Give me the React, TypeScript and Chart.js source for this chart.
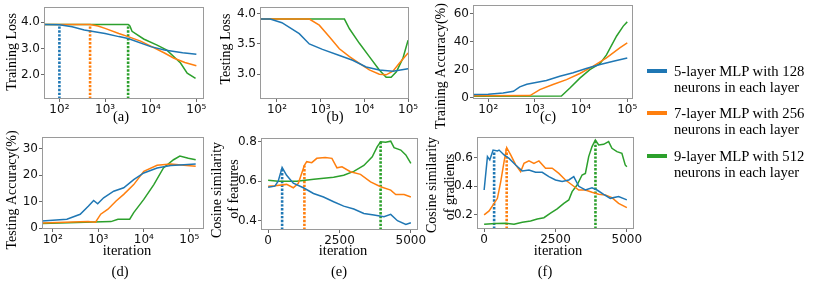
import React, { useEffect, useRef } from "react";
import { Chart, registerables } from "chart.js";
Chart.register(...registerables);

const BLUE = "#1f77b4";
const ORANGE = "#ff7f0e";
const GREEN = "#2ca02c";

// tick labels
const LOG_TICKS = [100, 1000, 10000, 100000];
const LOG_LABELS = ["10²", "10³", "10⁴", "10⁵"];
const LIN_TICKS = [0, 2500, 5000];
const LIN_LABELS = ["0", "2500", "5000"];

const SERIES_NAMES = [
  ["5-layer MLP with 128", "neurons in each layer"],
  ["7-layer MLP with 256", "neurons in each layer"],
  ["9-layer MLP with 512", "neurons in each layer"],
];

// (a) Training loss
const aBlueX = [47, 100, 190, 350, 1000, 2000, 3200, 10000, 20000, 50000, 100000];
const aBlueY = [3.91, 3.9, 3.82, 3.7, 3.57, 3.45, 3.38, 3.07, 2.94, 2.84, 2.78];
const aOrangeX = [47, 470, 700, 1000, 2000, 3200, 6000, 10000, 20000, 31600, 56000, 100000];
const aOrangeY = [3.91, 3.91, 3.85, 3.76, 3.57, 3.45, 3.28, 3.09, 2.83, 2.64, 2.47, 2.35];
const aGreenX = [47, 3200, 3500, 3900, 7000, 13800, 22600, 34500, 45000, 63000, 96000];
const aGreenY = [3.91, 3.91, 3.85, 3.65, 3.36, 3.13, 2.94, 2.64, 2.45, 2.07, 1.87];
const aMarkX = [100, 470, 3200];
const aMarkTop = [3.91, 3.91, 3.91];

// (b) Testing loss
const bBlueX = [41, 70, 130, 324, 550, 1100, 2700, 5400, 11000, 22000, 45000, 100000];
const bBlueY = [3.91, 3.91, 3.85, 3.67, 3.5, 3.41, 3.31, 3.23, 3.12, 3.07, 3.05, 3.09];
const bOrangeX = [41, 550, 930, 1580, 2680, 4560, 7700, 13000, 22000, 31500, 45000, 63000, 100000];
const bOrangeY = [3.91, 3.91, 3.81, 3.62, 3.42, 3.29, 3.18, 3.07, 3.0, 2.99, 3.05, 3.18, 3.35];
const bGreenX = [41, 3500, 4560, 7700, 13000, 22000, 31500, 41000, 54000, 76000, 100000];
const bGreenY = [3.91, 3.91, 3.75, 3.51, 3.29, 3.07, 2.95, 2.95, 3.04, 3.26, 3.56];

// (c) Training accuracy
const cBlueX = [47, 100, 210, 350, 480, 680, 1000, 1800, 3500, 6800, 13000, 26000, 50000, 100000];
const cBlueY = [2.4, 2.6, 3.5, 4.7, 7.8, 9.7, 10.7, 12.3, 15.4, 17.8, 20.9, 23.7, 26, 28.4];
const cOrangeX = [47, 800, 1300, 2500, 4900, 9500, 18500, 35600, 69000, 100000];
const cOrangeY = [1.5, 1.6, 5.9, 9.5, 13, 17.3, 22.5, 28.4, 35.5, 39];
const cGreenX = [47, 3800, 5800, 9500, 15600, 26000, 35600, 59000, 82000, 100000];
const cGreenY = [1.2, 1.3, 7, 14, 20, 24.5, 30.5, 44, 51, 54];

// (d) Testing accuracy
const dBlueX = [57, 204, 400, 610, 790, 970, 1310, 2180, 3620, 6000, 10000, 19600, 39000, 76000, 138000];
const dBlueY = [2.75, 3.4, 5.25, 8.4, 10.5, 9.25, 11.5, 14, 15.3, 18.4, 20.9, 22.8, 23.75, 24, 24.25];
const dOrangeX = [57, 600, 870, 1130, 1630, 2460, 3620, 6000, 10000, 19600, 39000, 76000, 138000];
const dOrangeY = [2.0, 2.5, 2.3, 5.3, 7.2, 10.3, 12.8, 16.5, 21.5, 23.8, 24.3, 23.8, 23.4];
const dGreenX = [57, 1900, 2700, 4900, 6000, 10000, 16600, 27000, 45000, 62000, 95000, 138000];
const dGreenY = [1.8, 2.5, 3.4, 3.4, 5.9, 10.9, 16.5, 22.8, 25.9, 27.3, 26.5, 25.9];

// (e) Cosine similarity of features
const eBlueX = [0, 235, 353, 490, 647, 882, 1235, 1588, 1940, 2294, 2647, 3000, 3353, 3705, 4058, 4294, 4530, 4823, 5000];
const eBlueY = [0.57, 0.575, 0.6, 0.67, 0.63, 0.59, 0.567, 0.538, 0.52, 0.496, 0.474, 0.459, 0.437, 0.429, 0.42, 0.432, 0.4, 0.381, 0.39];
const eOrangeX = [0, 235, 647, 882, 1058, 1270, 1352, 1529, 1705, 2000, 2235, 2411, 2588, 2882, 3235, 3588, 3940, 4294, 4470, 4764, 5000];
const eOrangeY = [0.575, 0.577, 0.584, 0.567, 0.59, 0.68, 0.699, 0.694, 0.716, 0.72, 0.716, 0.668, 0.673, 0.648, 0.635, 0.597, 0.572, 0.555, 0.533, 0.533, 0.52];
const eGreenX = [0, 350, 1000, 1600, 2294, 2647, 3000, 3353, 3647, 3823, 3940, 4117, 4294, 4411, 4647, 4823, 5000];
const eGreenY = [0.605, 0.6, 0.6, 0.61, 0.62, 0.63, 0.65, 0.68, 0.724, 0.775, 0.8, 0.797, 0.803, 0.77, 0.758, 0.733, 0.69];
const eMarkX = [490, 1270, 3940];
const eMarkTop = [0.67, 0.68, 0.8];

// (f) Cosine similarity of gradients
const fBlueX = [0, 116, 198, 314, 465, 523, 698, 872, 1105, 1337, 1570, 1802, 2035, 2268, 2500, 2733, 2966, 3140, 3315, 3547, 3780, 3954, 4187, 4419, 4710, 5000];
const fBlueY = [0.374, 0.607, 0.584, 0.653, 0.647, 0.653, 0.619, 0.595, 0.549, 0.507, 0.514, 0.498, 0.498, 0.467, 0.444, 0.433, 0.444, 0.467, 0.4, 0.374, 0.39, 0.374, 0.344, 0.316, 0.328, 0.305];
const fOrangeX = [0, 174, 349, 465, 582, 698, 791, 930, 1105, 1279, 1396, 1570, 1744, 1919, 2151, 2384, 2617, 2849, 3082, 3315, 3547, 3780, 4012, 4245, 4477, 4710, 5000];
const fOrangeY = [0.2, 0.228, 0.281, 0.316, 0.433, 0.572, 0.67, 0.619, 0.549, 0.502, 0.56, 0.577, 0.56, 0.577, 0.526, 0.526, 0.49, 0.444, 0.409, 0.374, 0.374, 0.358, 0.344, 0.34, 0.321, 0.281, 0.251];
const fGreenX = [0, 407, 756, 1047, 1337, 1628, 1861, 2094, 2326, 2559, 2792, 2966, 3082, 3256, 3431, 3547, 3663, 3780, 3896, 4012, 4187, 4361, 4477, 4652, 4826, 4942, 5000];
const fGreenY = [0.135, 0.14, 0.142, 0.135, 0.149, 0.158, 0.172, 0.181, 0.212, 0.242, 0.281, 0.305, 0.363, 0.409, 0.479, 0.49, 0.607, 0.677, 0.723, 0.688, 0.693, 0.712, 0.665, 0.642, 0.63, 0.549, 0.537];
const fMarkX = [350, 790, 3900];
const fMarkTop = [0.65, 0.67, 0.72];

const COLORS = [BLUE, ORANGE, GREEN];
const W = 814;
const H = 285;
const YW = 40;
const XH = 20;
const SERIF = '"Liberation Serif", "Times New Roman", serif';

type Txt = { t: string; x: number; y: number; r?: boolean };
type PanelDef = {
  box: [number, number, number, number];
  log: boolean;
  xMin: number;
  xMax: number;
  yMin: number;
  yMax: number;
  yTicks: number[];
  yLabels: string[];
  series: [number[], number[]][];
  markX?: number[];
  markTop?: number[];
  texts: Txt[];
};

const PANELS: PanelDef[] = [
  {
    box: [44, 7, 204, 99], log: true, xMin: 46, xMax: 147000, yMin: 1.09, yMax: 4.57,
    yTicks: [2, 3, 4], yLabels: ["2.0", "3.0", "4.0"],
    series: [[aBlueX, aBlueY], [aOrangeX, aOrangeY], [aGreenX, aGreenY]],
    markX: aMarkX, markTop: aMarkTop,
    texts: [{ t: "Training Loss", x: 12, y: 52, r: true }, { t: "(a)", x: 121, y: 117 }],
  },
  {
    box: [260, 7, 409, 99], log: true, xMin: 41, xMax: 105000, yMin: 2.59, yMax: 4.11,
    yTicks: [3, 3.5, 4], yLabels: ["3.0", "3.5", "4.0"],
    series: [[bBlueX, bBlueY], [bOrangeX, bOrangeY], [bGreenX, bGreenY]],
    texts: [{ t: "Testing Loss", x: 226, y: 49, r: true }, { t: "(b)", x: 335, y: 117 }],
  },
  {
    box: [473, 5, 633, 99], log: true, xMin: 47, xMax: 133000, yMin: -0.8, yMax: 66,
    yTicks: [0, 20, 40, 60], yLabels: ["0", "20", "40", "60"],
    series: [[cBlueX, cBlueY], [cOrangeX, cOrangeY], [cGreenX, cGreenY]],
    texts: [{ t: "Training Accuracy(%)", x: 441, y: 66, r: true }, { t: "(c)", x: 548, y: 117 }],
  },
  {
    box: [42, 137, 204, 229], log: true, xMin: 58, xMax: 210000, yMin: -0.3, yMax: 34.5,
    yTicks: [0, 10, 20, 30], yLabels: ["0", "10", "20", "30"],
    series: [[dBlueX, dBlueY], [dOrangeX, dOrangeY], [dGreenX, dGreenY]],
    texts: [
      { t: "Testing Accuracy(%)", x: 12, y: 190, r: true },
      { t: "iteration", x: 127, y: 251 },
      { t: "(d)", x: 120, y: 272 },
    ],
  },
  {
    box: [261, 138, 418, 230], log: false, xMin: -250, xMax: 5250, yMin: 0.353, yMax: 0.819,
    yTicks: [0.4, 0.6, 0.8], yLabels: ["0.4", "0.6", "0.8"],
    series: [[eBlueX, eBlueY], [eOrangeX, eOrangeY], [eGreenX, eGreenY]],
    markX: eMarkX, markTop: eMarkTop,
    texts: [
      { t: "Cosine similarity", x: 217, y: 190, r: true },
      { t: "of features", x: 234, y: 189, r: true },
      { t: "iteration", x: 343, y: 251 },
      { t: "(e)", x: 339, y: 272 },
    ],
  },
  {
    box: [477, 137, 634, 229], log: false, xMin: -250, xMax: 5250, yMin: 0.102, yMax: 0.744,
    yTicks: [0.2, 0.4, 0.6], yLabels: ["0.2", "0.4", "0.6"],
    series: [[fBlueX, fBlueY], [fOrangeX, fOrangeY], [fGreenX, fGreenY]],
    markX: fMarkX, markTop: fMarkTop,
    texts: [
      { t: "Cosine similarity", x: 432, y: 185, r: true },
      { t: "of gradients", x: 450, y: 187, r: true },
      { t: "iteration", x: 558, y: 251 },
      { t: "(f)", x: 545, y: 272 },
    ],
  },
];

function buildConfig(p: PanelDef): any {
  const [l, t, r, b] = p.box;
  const datasets: any[] = p.series.map(([xs, ys], i) => ({
    data: xs.map((x, k) => ({ x, y: ys[k] })),
    borderColor: COLORS[i],
    borderWidth: 1.5,
    pointRadius: 0,
    fill: false,
    tension: 0,
  }));
  if (p.markX && p.markTop) {
    p.markX.forEach((mx, i) => {
      datasets.push({
        data: [{ x: mx, y: p.yMin }, { x: mx, y: p.markTop![i] }],
        borderColor: COLORS[i],
        borderWidth: 2.6,
        borderDash: [2.4, 1.5],
        borderCapStyle: "butt",
        pointRadius: 0,
        fill: false,
      });
    });
  }
  const xTicks = p.log ? LOG_TICKS : LIN_TICKS;
  const xLabels = p.log ? LOG_LABELS : LIN_LABELS;
  const tickFont = { family: '"DejaVu Sans", sans-serif', size: 12 };
  const framePlugin = {
    id: "frame",
    afterDatasetsDraw(chart: any) {
      const { ctx, chartArea: a } = chart;
      ctx.save();
      ctx.strokeStyle = "#9a9a9a";
      ctx.lineWidth = 1;
      ctx.strokeRect(Math.round(a.left) + 0.5, Math.round(a.top) + 0.5, Math.round(a.right - a.left) - 1, Math.round(a.bottom - a.top) - 1);
      ctx.restore();
    },
    afterDraw(chart: any) {
      const ctx = chart.ctx;
      ctx.save();
      ctx.fillStyle = "#000";
      ctx.textAlign = "center";
      ctx.textBaseline = "middle";
      p.texts.forEach((tx) => {
        ctx.save();
        ctx.font = tx.r ? `14px ${SERIF}` : `14.5px ${SERIF}`;
        ctx.translate(tx.x, tx.y);
        if (tx.r) ctx.rotate(-Math.PI / 2);
        ctx.fillText(tx.t, 0, 0);
        ctx.restore();
      });
      ctx.restore();
    },
  };
  return {
    type: "line",
    data: { datasets },
    plugins: [framePlugin],
    options: {
      responsive: false,
      maintainAspectRatio: false,
      animation: false,
      events: [],
      layout: { padding: { left: l - YW, top: t, right: W - r, bottom: H - b - XH } },
      plugins: { legend: { display: false }, tooltip: { enabled: false } },
      scales: {
        x: {
          type: p.log ? "logarithmic" : "linear",
          min: p.xMin,
          max: p.xMax,
          afterBuildTicks: (s: any) => {
            s.ticks = xTicks.map((v) => ({ value: v }));
          },
          afterFit: (s: any) => {
            s.height = XH;
            s.paddingLeft = 0;
            s.paddingRight = 0;
          },
          ticks: {
            autoSkip: false,
            maxRotation: 0,
            minRotation: 0,
            padding: 1,
            color: "#111",
            font: tickFont,
            callback: (_v: any, i: number) => xLabels[i],
          },
          grid: { display: true, drawOnChartArea: false, drawTicks: true, tickLength: 3, color: "#444", lineWidth: 0.8 },
          border: { display: false },
        },
        y: {
          type: "linear",
          min: p.yMin,
          max: p.yMax,
          afterBuildTicks: (s: any) => {
            s.ticks = p.yTicks.map((v) => ({ value: v }));
          },
          afterFit: (s: any) => {
            s.width = YW;
            s.paddingTop = 0;
            s.paddingBottom = 0;
          },
          ticks: {
            autoSkip: false,
            padding: 1,
            color: "#111",
            font: tickFont,
            callback: (_v: any, i: number) => p.yLabels[i],
          },
          grid: { display: true, drawOnChartArea: false, drawTicks: true, tickLength: 3, color: "#444", lineWidth: 0.8 },
          border: { display: false },
        },
      },
    },
  };
}

function Panel({ def }: { def: PanelDef }) {
  const ref = useRef<HTMLCanvasElement | null>(null);
  useEffect(() => {
    if (!ref.current) return;
    const chart = new Chart(ref.current, buildConfig(def));
    return () => chart.destroy();
  }, [def]);
  return (
    <canvas
      ref={ref}
      width={W}
      height={H}
      style={{ position: "absolute", left: 0, top: 0, width: W, height: H }}
    />
  );
}

const LEGEND_CENTERS = [71, 113, 156];

export default function App() {
  return (
    <div style={{ position: "fixed", left: 0, top: 0, width: W, height: H, background: "#fff", overflow: "hidden" }}>
      {PANELS.map((p, i) => (
        <Panel key={i} def={p} />
      ))}
      {SERIES_NAMES.map((lines, i) => (
        <React.Fragment key={i}>
          <div
            style={{
              position: "absolute",
              left: 647,
              top: LEGEND_CENTERS[i] - 2,
              width: 20,
              height: 4,
              background: COLORS[i],
            }}
          />
          <div
            style={{
              position: "absolute",
              left: 674,
              top: LEGEND_CENTERS[i] - 8.5,
              fontFamily: SERIF,
              fontSize: 14.7,
              lineHeight: "16.5px",
              color: "#000",
              whiteSpace: "nowrap",
            }}
          >
            {lines[0]}
            <br />
            {lines[1]}
          </div>
        </React.Fragment>
      ))}
    </div>
  );
}
